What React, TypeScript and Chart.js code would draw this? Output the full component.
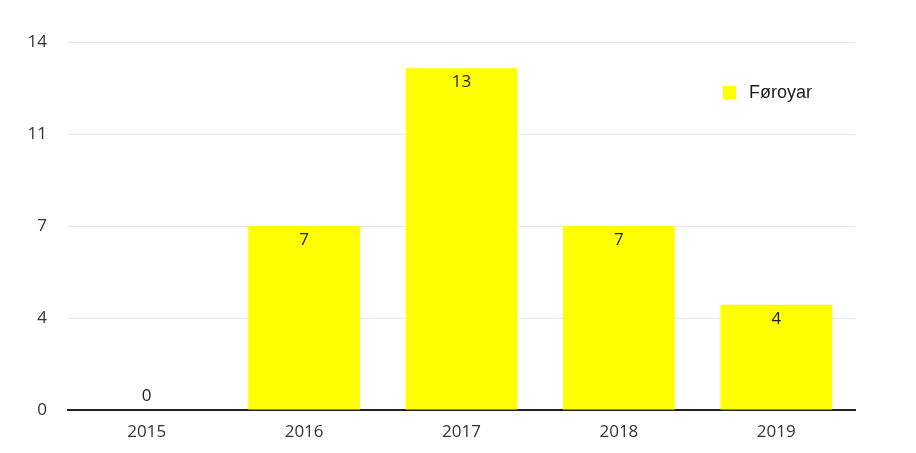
import React, { useEffect, useRef } from "react";
import { Chart, registerables } from "chart.js";

Chart.register(...registerables);

const categories = ["2015", "2016", "2017", "2018", "2019"];
const seriesName = "Føroyar";
const seriesValues = [0, 7, 13, 7, 4];
const yTickValues = [0, 3.5, 7, 10.5, 14];
const yTickLabels = ["0", "4", "7", "11", "14"];

const FONT = "'Open Sans', 'Noto Sans', sans-serif";
const LEGEND_FONT = "'Liberation Sans', Arial, sans-serif";
const YELLOW = "#ffff00";

const valueLabels = {
  id: "valueLabels",
  afterDatasetsDraw(chart: any) {
    const ctx = chart.ctx;
    const meta = chart.getDatasetMeta(0);
    const data = chart.data.datasets[0].data as number[];
    ctx.save();
    ctx.font = `17px ${FONT}`;
    ctx.fillStyle = "#222";
    ctx.textAlign = "center";
    ctx.textBaseline = "middle";
    meta.data.forEach((bar: any, i: number) => {
      const v = data[i];
      const y = v > 0 ? bar.y + 14 : bar.y - 14;
      ctx.fillText(String(v), bar.x, y);
    });
    ctx.restore();
  },
};

const innerLegend = {
  id: "innerLegend",
  afterDraw(chart: any) {
    const ctx = chart.ctx;
    const ds = chart.data.datasets[0];
    ctx.save();
    ctx.fillStyle = ds.backgroundColor;
    ctx.fillRect(723, 86, 13, 13);
    ctx.font = `18px ${LEGEND_FONT}`;
    ctx.fillStyle = "#1a1a1a";
    ctx.textAlign = "left";
    ctx.textBaseline = "middle";
    ctx.fillText(ds.label, 749, 93);
    ctx.restore();
  },
};

export default function App() {
  const ref = useRef<HTMLCanvasElement | null>(null);
  useEffect(() => {
    if (!ref.current) return;
    const chart = new Chart(ref.current, {
      type: "bar",
      data: {
        labels: categories,
        datasets: [
          {
            label: seriesName,
            data: seriesValues,
            backgroundColor: YELLOW,
            barPercentage: 0.71,
            categoryPercentage: 1,
          },
        ],
      },
      options: {
        animation: false,
        responsive: true,
        maintainAspectRatio: false,
        layout: { padding: { left: 0, right: 61, top: 42, bottom: 0 } },
        plugins: {
          legend: { display: false },
          tooltip: { enabled: false },
        },
        scales: {
          x: {
            grid: { display: false, drawTicks: false },
            border: { display: true, color: "#222", width: 2 },
            ticks: {
              color: "#333",
              padding: 12,
              font: { family: FONT, size: 17 },
            },
            afterFit(scale: any) {
              scale.height = 43;
            },
          },
          y: {
            min: 0,
            max: 14,
            afterBuildTicks(scale: any) {
              scale.ticks = yTickValues.map((v) => ({ value: v }));
            },
            grid: { color: "#e6e6e6", lineWidth: 1, drawTicks: false },
            border: { display: false },
            ticks: {
              color: "#333",
              padding: 21,
              font: { family: FONT, size: 17 },
              callback: (_v: any, i: number) => yTickLabels[i],
            },
            afterFit(scale: any) {
              scale.width = 68;
            },
          },
        },
      },
      plugins: [valueLabels, innerLegend],
    });
    return () => chart.destroy();
  }, []);
  return (
    <div style={{ position: "fixed", left: 0, top: 0, width: 916, height: 453, background: "#fff" }}>
      <canvas ref={ref} />
    </div>
  );
}
